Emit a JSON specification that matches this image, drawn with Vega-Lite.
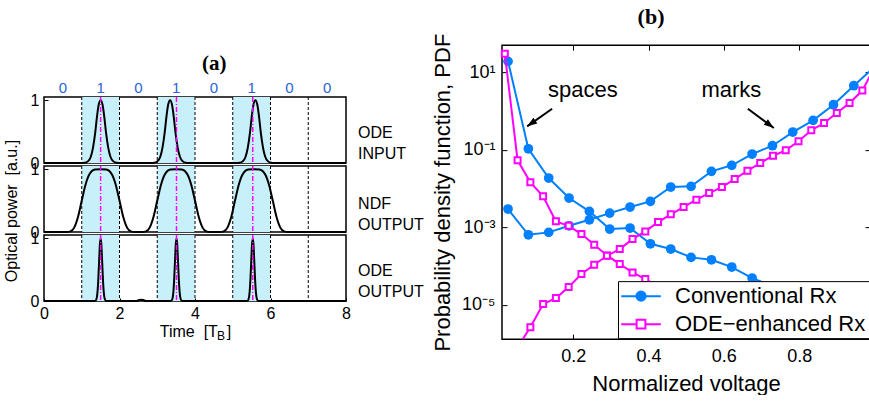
{
  "$schema": "https://vega.github.io/schema/vega-lite/v6.json",
  "padding": {"left": 3, "top": 5, "right": 0, "bottom": 0},
  "config": {
    "font": "Liberation Sans",
    "view": {"stroke": "black", "strokeWidth": 1.5},
    "axis": {"domain": false, "grid": false, "tickColor": "black", "labelColor": "black", "titleColor": "black", "titleFontWeight": "normal", "labelFlush": false, "tickWidth": 1},
    "header": {"titleFontSize": 16, "titleFont": "Liberation Sans", "titleFontWeight": "normal", "titleColor": "black"}
  },
  "resolve": {
    "scale": {"fill": "independent", "stroke": "independent", "shape": "independent"},
    "legend": {"fill": "independent", "stroke": "independent", "shape": "independent"}
  },
  "datasets": {
    "pulses": [
      {"panel":"ODE INPUT","kind":"c","t":0,"p":0},{"panel":"ODE INPUT","kind":"c","t":1.0,"p":0},{"panel":"ODE INPUT","kind":"c","t":1.08,"p":0.003},{"panel":"ODE INPUT","kind":"c","t":1.17,"p":0.03},{"panel":"ODE INPUT","kind":"c","t":1.24,"p":0.1},{"panel":"ODE INPUT","kind":"c","t":1.3,"p":0.25},{"panel":"ODE INPUT","kind":"c","t":1.36,"p":0.5},{"panel":"ODE INPUT","kind":"c","t":1.4,"p":0.72},{"panel":"ODE INPUT","kind":"c","t":1.45,"p":0.93},{"panel":"ODE INPUT","kind":"c","t":1.5,"p":1},{"panel":"ODE INPUT","kind":"c","t":1.55,"p":0.93},{"panel":"ODE INPUT","kind":"c","t":1.6,"p":0.72},{"panel":"ODE INPUT","kind":"c","t":1.64,"p":0.5},{"panel":"ODE INPUT","kind":"c","t":1.7,"p":0.25},{"panel":"ODE INPUT","kind":"c","t":1.76,"p":0.1},{"panel":"ODE INPUT","kind":"c","t":1.83,"p":0.03},{"panel":"ODE INPUT","kind":"c","t":1.92,"p":0.003},{"panel":"ODE INPUT","kind":"c","t":2.0,"p":0},
      {"panel":"ODE INPUT","kind":"c","t":2.84,"p":0},{"panel":"ODE INPUT","kind":"c","t":2.92,"p":0.003},{"panel":"ODE INPUT","kind":"c","t":3.01,"p":0.03},{"panel":"ODE INPUT","kind":"c","t":3.08,"p":0.1},{"panel":"ODE INPUT","kind":"c","t":3.14,"p":0.25},{"panel":"ODE INPUT","kind":"c","t":3.2,"p":0.5},{"panel":"ODE INPUT","kind":"c","t":3.24,"p":0.72},{"panel":"ODE INPUT","kind":"c","t":3.29,"p":0.93},{"panel":"ODE INPUT","kind":"c","t":3.34,"p":1},{"panel":"ODE INPUT","kind":"c","t":3.39,"p":0.93},{"panel":"ODE INPUT","kind":"c","t":3.44,"p":0.72},{"panel":"ODE INPUT","kind":"c","t":3.48,"p":0.5},{"panel":"ODE INPUT","kind":"c","t":3.54,"p":0.25},{"panel":"ODE INPUT","kind":"c","t":3.6,"p":0.1},{"panel":"ODE INPUT","kind":"c","t":3.67,"p":0.03},{"panel":"ODE INPUT","kind":"c","t":3.76,"p":0.003},{"panel":"ODE INPUT","kind":"c","t":3.84,"p":0},
      {"panel":"ODE INPUT","kind":"c","t":5.1,"p":0},{"panel":"ODE INPUT","kind":"c","t":5.18,"p":0.003},{"panel":"ODE INPUT","kind":"c","t":5.27,"p":0.03},{"panel":"ODE INPUT","kind":"c","t":5.34,"p":0.1},{"panel":"ODE INPUT","kind":"c","t":5.4,"p":0.25},{"panel":"ODE INPUT","kind":"c","t":5.46,"p":0.5},{"panel":"ODE INPUT","kind":"c","t":5.5,"p":0.72},{"panel":"ODE INPUT","kind":"c","t":5.55,"p":0.93},{"panel":"ODE INPUT","kind":"c","t":5.6,"p":1},{"panel":"ODE INPUT","kind":"c","t":5.65,"p":0.93},{"panel":"ODE INPUT","kind":"c","t":5.7,"p":0.72},{"panel":"ODE INPUT","kind":"c","t":5.74,"p":0.5},{"panel":"ODE INPUT","kind":"c","t":5.8,"p":0.25},{"panel":"ODE INPUT","kind":"c","t":5.86,"p":0.1},{"panel":"ODE INPUT","kind":"c","t":5.93,"p":0.03},{"panel":"ODE INPUT","kind":"c","t":6.02,"p":0.003},{"panel":"ODE INPUT","kind":"c","t":6.1,"p":0},{"panel":"ODE INPUT","kind":"c","t":8,"p":0},
      {"panel":"NDF OUTPUT","kind":"c","t":0,"p":0},{"panel":"NDF OUTPUT","kind":"c","t":0.5,"p":0},{"panel":"NDF OUTPUT","kind":"c","t":0.6,"p":0.0007},{"panel":"NDF OUTPUT","kind":"c","t":0.7,"p":0.0106},{"panel":"NDF OUTPUT","kind":"c","t":0.8,"p":0.07},{"panel":"NDF OUTPUT","kind":"c","t":0.9,"p":0.238},{"panel":"NDF OUTPUT","kind":"c","t":1.0,"p":0.5},{"panel":"NDF OUTPUT","kind":"c","t":1.1,"p":0.753},{"panel":"NDF OUTPUT","kind":"c","t":1.2,"p":0.914},{"panel":"NDF OUTPUT","kind":"c","t":1.35,"p":0.994},{"panel":"NDF OUTPUT","kind":"c","t":1.5,"p":1},{"panel":"NDF OUTPUT","kind":"c","t":1.65,"p":0.994},{"panel":"NDF OUTPUT","kind":"c","t":1.8,"p":0.914},{"panel":"NDF OUTPUT","kind":"c","t":1.9,"p":0.753},{"panel":"NDF OUTPUT","kind":"c","t":2.0,"p":0.5},{"panel":"NDF OUTPUT","kind":"c","t":2.1,"p":0.238},{"panel":"NDF OUTPUT","kind":"c","t":2.2,"p":0.07},{"panel":"NDF OUTPUT","kind":"c","t":2.3,"p":0.0106},{"panel":"NDF OUTPUT","kind":"c","t":2.4,"p":0.0007},{"panel":"NDF OUTPUT","kind":"c","t":2.5,"p":0},
      {"panel":"NDF OUTPUT","kind":"c","t":2.6,"p":0.0007},{"panel":"NDF OUTPUT","kind":"c","t":2.7,"p":0.0106},{"panel":"NDF OUTPUT","kind":"c","t":2.8,"p":0.07},{"panel":"NDF OUTPUT","kind":"c","t":2.9,"p":0.238},{"panel":"NDF OUTPUT","kind":"c","t":3.0,"p":0.5},{"panel":"NDF OUTPUT","kind":"c","t":3.1,"p":0.753},{"panel":"NDF OUTPUT","kind":"c","t":3.2,"p":0.914},{"panel":"NDF OUTPUT","kind":"c","t":3.35,"p":0.994},{"panel":"NDF OUTPUT","kind":"c","t":3.5,"p":1},{"panel":"NDF OUTPUT","kind":"c","t":3.65,"p":0.994},{"panel":"NDF OUTPUT","kind":"c","t":3.8,"p":0.914},{"panel":"NDF OUTPUT","kind":"c","t":3.9,"p":0.753},{"panel":"NDF OUTPUT","kind":"c","t":4.0,"p":0.5},{"panel":"NDF OUTPUT","kind":"c","t":4.1,"p":0.238},{"panel":"NDF OUTPUT","kind":"c","t":4.2,"p":0.07},{"panel":"NDF OUTPUT","kind":"c","t":4.3,"p":0.0106},{"panel":"NDF OUTPUT","kind":"c","t":4.4,"p":0.0007},{"panel":"NDF OUTPUT","kind":"c","t":4.5,"p":0},
      {"panel":"NDF OUTPUT","kind":"c","t":4.56,"p":0},{"panel":"NDF OUTPUT","kind":"c","t":4.66,"p":0.0007},{"panel":"NDF OUTPUT","kind":"c","t":4.76,"p":0.0106},{"panel":"NDF OUTPUT","kind":"c","t":4.86,"p":0.07},{"panel":"NDF OUTPUT","kind":"c","t":4.96,"p":0.238},{"panel":"NDF OUTPUT","kind":"c","t":5.06,"p":0.5},{"panel":"NDF OUTPUT","kind":"c","t":5.16,"p":0.753},{"panel":"NDF OUTPUT","kind":"c","t":5.26,"p":0.914},{"panel":"NDF OUTPUT","kind":"c","t":5.41,"p":0.994},{"panel":"NDF OUTPUT","kind":"c","t":5.56,"p":1},{"panel":"NDF OUTPUT","kind":"c","t":5.71,"p":0.994},{"panel":"NDF OUTPUT","kind":"c","t":5.86,"p":0.914},{"panel":"NDF OUTPUT","kind":"c","t":5.96,"p":0.753},{"panel":"NDF OUTPUT","kind":"c","t":6.06,"p":0.5},{"panel":"NDF OUTPUT","kind":"c","t":6.16,"p":0.238},{"panel":"NDF OUTPUT","kind":"c","t":6.26,"p":0.07},{"panel":"NDF OUTPUT","kind":"c","t":6.36,"p":0.0106},{"panel":"NDF OUTPUT","kind":"c","t":6.46,"p":0.0007},{"panel":"NDF OUTPUT","kind":"c","t":6.56,"p":0},{"panel":"NDF OUTPUT","kind":"c","t":8,"p":0},
      {"panel":"ODE OUTPUT","kind":"c","t":0,"p":0},{"panel":"ODE OUTPUT","kind":"c","t":1.28,"p":0},{"panel":"ODE OUTPUT","kind":"c","t":1.33,"p":0.0003},{"panel":"ODE OUTPUT","kind":"c","t":1.37,"p":0.0083},{"panel":"ODE OUTPUT","kind":"c","t":1.4,"p":0.059},{"panel":"ODE OUTPUT","kind":"c","t":1.42,"p":0.163},{"panel":"ODE OUTPUT","kind":"c","t":1.44,"p":0.36},{"panel":"ODE OUTPUT","kind":"c","t":1.46,"p":0.635},{"panel":"ODE OUTPUT","kind":"c","t":1.48,"p":0.893},{"panel":"ODE OUTPUT","kind":"c","t":1.5,"p":1},{"panel":"ODE OUTPUT","kind":"c","t":1.52,"p":0.893},{"panel":"ODE OUTPUT","kind":"c","t":1.54,"p":0.635},{"panel":"ODE OUTPUT","kind":"c","t":1.56,"p":0.36},{"panel":"ODE OUTPUT","kind":"c","t":1.58,"p":0.163},{"panel":"ODE OUTPUT","kind":"c","t":1.6,"p":0.059},{"panel":"ODE OUTPUT","kind":"c","t":1.63,"p":0.0083},{"panel":"ODE OUTPUT","kind":"c","t":1.67,"p":0.0003},{"panel":"ODE OUTPUT","kind":"c","t":1.72,"p":0},
      {"panel":"ODE OUTPUT","kind":"c","t":2.45,"p":0},{"panel":"ODE OUTPUT","kind":"c","t":2.52,"p":0.015},{"panel":"ODE OUTPUT","kind":"c","t":2.57,"p":0.022},{"panel":"ODE OUTPUT","kind":"c","t":2.63,"p":0.015},{"panel":"ODE OUTPUT","kind":"c","t":2.7,"p":0},
      {"panel":"ODE OUTPUT","kind":"c","t":3.29,"p":0},{"panel":"ODE OUTPUT","kind":"c","t":3.34,"p":0.0003},{"panel":"ODE OUTPUT","kind":"c","t":3.38,"p":0.0083},{"panel":"ODE OUTPUT","kind":"c","t":3.41,"p":0.059},{"panel":"ODE OUTPUT","kind":"c","t":3.43,"p":0.163},{"panel":"ODE OUTPUT","kind":"c","t":3.45,"p":0.36},{"panel":"ODE OUTPUT","kind":"c","t":3.47,"p":0.635},{"panel":"ODE OUTPUT","kind":"c","t":3.49,"p":0.893},{"panel":"ODE OUTPUT","kind":"c","t":3.51,"p":1},{"panel":"ODE OUTPUT","kind":"c","t":3.53,"p":0.893},{"panel":"ODE OUTPUT","kind":"c","t":3.55,"p":0.635},{"panel":"ODE OUTPUT","kind":"c","t":3.57,"p":0.36},{"panel":"ODE OUTPUT","kind":"c","t":3.59,"p":0.163},{"panel":"ODE OUTPUT","kind":"c","t":3.61,"p":0.059},{"panel":"ODE OUTPUT","kind":"c","t":3.64,"p":0.0083},{"panel":"ODE OUTPUT","kind":"c","t":3.68,"p":0.0003},{"panel":"ODE OUTPUT","kind":"c","t":3.73,"p":0},
      {"panel":"ODE OUTPUT","kind":"c","t":5.31,"p":0},{"panel":"ODE OUTPUT","kind":"c","t":5.36,"p":0.0003},{"panel":"ODE OUTPUT","kind":"c","t":5.4,"p":0.0083},{"panel":"ODE OUTPUT","kind":"c","t":5.43,"p":0.059},{"panel":"ODE OUTPUT","kind":"c","t":5.45,"p":0.163},{"panel":"ODE OUTPUT","kind":"c","t":5.47,"p":0.36},{"panel":"ODE OUTPUT","kind":"c","t":5.49,"p":0.635},{"panel":"ODE OUTPUT","kind":"c","t":5.51,"p":0.893},{"panel":"ODE OUTPUT","kind":"c","t":5.53,"p":1},{"panel":"ODE OUTPUT","kind":"c","t":5.55,"p":0.893},{"panel":"ODE OUTPUT","kind":"c","t":5.57,"p":0.635},{"panel":"ODE OUTPUT","kind":"c","t":5.59,"p":0.36},{"panel":"ODE OUTPUT","kind":"c","t":5.61,"p":0.163},{"panel":"ODE OUTPUT","kind":"c","t":5.63,"p":0.059},{"panel":"ODE OUTPUT","kind":"c","t":5.66,"p":0.0083},{"panel":"ODE OUTPUT","kind":"c","t":5.7,"p":0.0003},{"panel":"ODE OUTPUT","kind":"c","t":5.75,"p":0},{"panel":"ODE OUTPUT","kind":"c","t":8,"p":0},
      {"panel":"ODE INPUT","kind":"band","t":1,"t2":2},{"panel":"ODE INPUT","kind":"band","t":3,"t2":4},{"panel":"ODE INPUT","kind":"band","t":5,"t2":6},
      {"panel":"NDF OUTPUT","kind":"band","t":1,"t2":2},{"panel":"NDF OUTPUT","kind":"band","t":3,"t2":4},{"panel":"NDF OUTPUT","kind":"band","t":5,"t2":6},
      {"panel":"ODE OUTPUT","kind":"band","t":1,"t2":2},{"panel":"ODE OUTPUT","kind":"band","t":3,"t2":4},{"panel":"ODE OUTPUT","kind":"band","t":5,"t2":6},
      {"panel":"ODE INPUT","kind":"dash","t":1},{"panel":"ODE INPUT","kind":"dash","t":2},{"panel":"ODE INPUT","kind":"dash","t":3},{"panel":"ODE INPUT","kind":"dash","t":4},{"panel":"ODE INPUT","kind":"dash","t":5},{"panel":"ODE INPUT","kind":"dash","t":6},{"panel":"ODE INPUT","kind":"dash","t":7},
      {"panel":"NDF OUTPUT","kind":"dash","t":1},{"panel":"NDF OUTPUT","kind":"dash","t":2},{"panel":"NDF OUTPUT","kind":"dash","t":3},{"panel":"NDF OUTPUT","kind":"dash","t":4},{"panel":"NDF OUTPUT","kind":"dash","t":5},{"panel":"NDF OUTPUT","kind":"dash","t":6},{"panel":"NDF OUTPUT","kind":"dash","t":7},
      {"panel":"ODE OUTPUT","kind":"dash","t":1},{"panel":"ODE OUTPUT","kind":"dash","t":2},{"panel":"ODE OUTPUT","kind":"dash","t":3},{"panel":"ODE OUTPUT","kind":"dash","t":4},{"panel":"ODE OUTPUT","kind":"dash","t":5},{"panel":"ODE OUTPUT","kind":"dash","t":6},{"panel":"ODE OUTPUT","kind":"dash","t":7},
      {"panel":"ODE INPUT","kind":"mag","t":1.5},{"panel":"ODE INPUT","kind":"mag","t":3.51},{"panel":"ODE INPUT","kind":"mag","t":5.53},
      {"panel":"NDF OUTPUT","kind":"mag","t":1.5},{"panel":"NDF OUTPUT","kind":"mag","t":3.51},{"panel":"NDF OUTPUT","kind":"mag","t":5.53},
      {"panel":"ODE OUTPUT","kind":"mag","t":1.5},{"panel":"ODE OUTPUT","kind":"mag","t":3.51},{"panel":"ODE OUTPUT","kind":"mag","t":5.53},
      {"panel":"ODE INPUT","kind":"bit","t":0.5,"p":1.2,"txt":"0"},{"panel":"ODE INPUT","kind":"bit","t":1.5,"p":1.2,"txt":"1"},{"panel":"ODE INPUT","kind":"bit","t":2.5,"p":1.2,"txt":"0"},{"panel":"ODE INPUT","kind":"bit","t":3.5,"p":1.2,"txt":"1"},{"panel":"ODE INPUT","kind":"bit","t":4.5,"p":1.2,"txt":"0"},{"panel":"ODE INPUT","kind":"bit","t":5.5,"p":1.2,"txt":"1"},{"panel":"ODE INPUT","kind":"bit","t":6.5,"p":1.2,"txt":"0"},{"panel":"ODE INPUT","kind":"bit","t":7.5,"p":1.2,"txt":"0"},
      {"panel":"ODE INPUT","kind":"lab","t":8.32,"p":0.47,"txt":"ODE INPUT"},
      {"panel":"NDF OUTPUT","kind":"lab","t":8.32,"p":0.45,"txt":"NDF OUTPUT"},
      {"panel":"ODE OUTPUT","kind":"lab","t":8.32,"p":0.47,"txt":"ODE OUTPUT"},
      {"panel":"ODE OUTPUT","kind":"sub","t":4.69,"p":-0.56,"txt":"B"}
    ],
    "pdf": [
      {"rx":"Conventional Rx","part":"spaces","v":0.027,"pdf":19.1},{"rx":"Conventional Rx","part":"spaces","v":0.081,"pdf":0.106},{"rx":"Conventional Rx","part":"spaces","v":0.135,"pdf":0.0186},{"rx":"Conventional Rx","part":"spaces","v":0.189,"pdf":0.00567},{"rx":"Conventional Rx","part":"spaces","v":0.243,"pdf":0.00257},{"rx":"Conventional Rx","part":"spaces","v":0.297,"pdf":0.000899},{"rx":"Conventional Rx","part":"spaces","v":0.351,"pdf":0.000953},{"rx":"Conventional Rx","part":"spaces","v":0.405,"pdf":0.000375},{"rx":"Conventional Rx","part":"spaces","v":0.459,"pdf":0.000274},{"rx":"Conventional Rx","part":"spaces","v":0.513,"pdf":0.000167},{"rx":"Conventional Rx","part":"spaces","v":0.567,"pdf":0.000145},{"rx":"Conventional Rx","part":"spaces","v":0.621,"pdf":0.000094},{"rx":"Conventional Rx","part":"spaces","v":0.675,"pdf":0.000049},{"rx":"Conventional Rx","part":"spaces","v":0.729,"pdf":0.00003},{"rx":"Conventional Rx","part":"spaces","v":0.783,"pdf":0.000018},{"rx":"Conventional Rx","part":"spaces","v":0.837,"pdf":0.00001},
      {"rx":"Conventional Rx","part":"marks","v":0.027,"pdf":0.00295},{"rx":"Conventional Rx","part":"marks","v":0.081,"pdf":0.00064},{"rx":"Conventional Rx","part":"marks","v":0.135,"pdf":0.000738},{"rx":"Conventional Rx","part":"marks","v":0.189,"pdf":0.00109},{"rx":"Conventional Rx","part":"marks","v":0.243,"pdf":0.00156},{"rx":"Conventional Rx","part":"marks","v":0.297,"pdf":0.00232},{"rx":"Conventional Rx","part":"marks","v":0.351,"pdf":0.00332},{"rx":"Conventional Rx","part":"marks","v":0.405,"pdf":0.00466},{"rx":"Conventional Rx","part":"marks","v":0.459,"pdf":0.0109},{"rx":"Conventional Rx","part":"marks","v":0.513,"pdf":0.01135},{"rx":"Conventional Rx","part":"marks","v":0.567,"pdf":0.0277},{"rx":"Conventional Rx","part":"marks","v":0.621,"pdf":0.0396},{"rx":"Conventional Rx","part":"marks","v":0.675,"pdf":0.0774},{"rx":"Conventional Rx","part":"marks","v":0.729,"pdf":0.127},{"rx":"Conventional Rx","part":"marks","v":0.783,"pdf":0.286},{"rx":"Conventional Rx","part":"marks","v":0.837,"pdf":0.574},{"rx":"Conventional Rx","part":"marks","v":0.891,"pdf":1.45},{"rx":"Conventional Rx","part":"marks","v":0.945,"pdf":4.49},{"rx":"Conventional Rx","part":"marks","v":0.999,"pdf":13.4},
      {"rx":"ODE−enhanced Rx","part":"spaces","v":0.0185,"pdf":30.0},{"rx":"ODE−enhanced Rx","part":"spaces","v":0.0524,"pdf":0.0532},{"rx":"ODE−enhanced Rx","part":"spaces","v":0.0863,"pdf":0.0144},{"rx":"ODE−enhanced Rx","part":"spaces","v":0.1202,"pdf":0.00627},{"rx":"ODE−enhanced Rx","part":"spaces","v":0.1541,"pdf":0.00142},{"rx":"ODE−enhanced Rx","part":"spaces","v":0.188,"pdf":0.00109},{"rx":"ODE−enhanced Rx","part":"spaces","v":0.2219,"pdf":0.000668},{"rx":"ODE−enhanced Rx","part":"spaces","v":0.2558,"pdf":0.000354},{"rx":"ODE−enhanced Rx","part":"spaces","v":0.2897,"pdf":0.000188},{"rx":"ODE−enhanced Rx","part":"spaces","v":0.3236,"pdf":0.000112},{"rx":"ODE−enhanced Rx","part":"spaces","v":0.3575,"pdf":0.0000685},{"rx":"ODE−enhanced Rx","part":"spaces","v":0.3914,"pdf":0.000046},{"rx":"ODE−enhanced Rx","part":"spaces","v":0.4253,"pdf":0.00003},{"rx":"ODE−enhanced Rx","part":"spaces","v":0.4592,"pdf":0.000018},{"rx":"ODE−enhanced Rx","part":"spaces","v":0.4931,"pdf":0.00001},
      {"rx":"ODE−enhanced Rx","part":"marks","v":0.0524,"pdf":0.00000079},{"rx":"ODE−enhanced Rx","part":"marks","v":0.0863,"pdf":0.00000265},{"rx":"ODE−enhanced Rx","part":"marks","v":0.1202,"pdf":0.0000104},{"rx":"ODE−enhanced Rx","part":"marks","v":0.1541,"pdf":0.0000149},{"rx":"ODE−enhanced Rx","part":"marks","v":0.188,"pdf":0.0000286},{"rx":"ODE−enhanced Rx","part":"marks","v":0.2219,"pdf":0.000062},{"rx":"ODE−enhanced Rx","part":"marks","v":0.2558,"pdf":0.000108},{"rx":"ODE−enhanced Rx","part":"marks","v":0.2897,"pdf":0.000184},{"rx":"ODE−enhanced Rx","part":"marks","v":0.3236,"pdf":0.000274},{"rx":"ODE−enhanced Rx","part":"marks","v":0.3575,"pdf":0.000495},{"rx":"ODE−enhanced Rx","part":"marks","v":0.3914,"pdf":0.000783},{"rx":"ODE−enhanced Rx","part":"marks","v":0.4253,"pdf":0.00136},{"rx":"ODE−enhanced Rx","part":"marks","v":0.4592,"pdf":0.00215},{"rx":"ODE−enhanced Rx","part":"marks","v":0.4931,"pdf":0.00332},{"rx":"ODE−enhanced Rx","part":"marks","v":0.527,"pdf":0.00513},{"rx":"ODE−enhanced Rx","part":"marks","v":0.5609,"pdf":0.00764},{"rx":"ODE−enhanced Rx","part":"marks","v":0.5948,"pdf":0.0109},{"rx":"ODE−enhanced Rx","part":"marks","v":0.6287,"pdf":0.0175},{"rx":"ODE−enhanced Rx","part":"marks","v":0.6626,"pdf":0.0287},{"rx":"ODE−enhanced Rx","part":"marks","v":0.6965,"pdf":0.0454},{"rx":"ODE−enhanced Rx","part":"marks","v":0.7304,"pdf":0.070},{"rx":"ODE−enhanced Rx","part":"marks","v":0.7643,"pdf":0.0966},{"rx":"ODE−enhanced Rx","part":"marks","v":0.7982,"pdf":0.165},{"rx":"ODE−enhanced Rx","part":"marks","v":0.8321,"pdf":0.317},{"rx":"ODE−enhanced Rx","part":"marks","v":0.866,"pdf":0.489},{"rx":"ODE−enhanced Rx","part":"marks","v":0.8999,"pdf":0.885},{"rx":"ODE−enhanced Rx","part":"marks","v":0.9338,"pdf":1.60},{"rx":"ODE−enhanced Rx","part":"marks","v":0.9677,"pdf":3.37},{"rx":"ODE−enhanced Rx","part":"marks","v":1.0016,"pdf":14.2}
    ],
    "notes": [
      {"label":"spaces","v":0.2255,"pdf":2.29,"tailv":0.1441,"tailpdf":1.143,"tipv":0.0778,"tippdf":0.402},
      {"label":"marks","v":0.620,"pdf":2.29,"tailv":0.6637,"tailpdf":1.143,"tipv":0.7327,"tippdf":0.363}
    ]
  },
  "spacing": 5,
  "center": true,
  "hconcat": [
    {
      "data": {"name": "pulses"},
      "title": {"text": "(a)", "font": "Liberation Serif", "fontSize": 21, "fontWeight": "bold", "anchor": "middle", "frame": "bounds", "offset": 6},
      "bounds": "flush",
      "spacing": {"row": 3},
      "facet": {
        "row": {
          "field": "panel", "type": "nominal",
          "sort": ["ODE INPUT", "NDF OUTPUT", "ODE OUTPUT"],
          "title": "Optical power \u00a0[a.u.]",
          "header": {
            "labels": false, "labelPadding": 0,
            "titleOrient": "left", "titleFontSize": 16, "titleFont": "Liberation Sans", "titleFontWeight": "normal", "titlePadding": 0
          }
        }
      },
      "spec": {
        "width": 302, "height": 66,
        "layer": [
          {
            "transform": [{"filter": "datum.kind == 'band'"}],
            "mark": {"type": "rect", "color": "#c8f0fa"},
            "encoding": {
              "x": {"field": "t", "type": "quantitative", "scale": {"domain": [0, 8], "nice": false}},
              "x2": {"field": "t2"}
            }
          },
          {
            "transform": [{"filter": "datum.kind == 'dash'"}],
            "mark": {"type": "rule", "color": "black", "strokeWidth": 1, "strokeDash": [3, 2]},
            "encoding": {"x": {"field": "t", "type": "quantitative", "scale": {"domain": [0, 8], "nice": false}}}
          },
          {
            "transform": [{"filter": "datum.kind == 'c'"}],
            "mark": {"type": "line", "color": "black", "strokeWidth": 2, "interpolate": "monotone"},
            "encoding": {
              "x": {"field": "t", "type": "quantitative", "scale": {"domain": [0, 8], "nice": false},
                    "axis": {"orient": "bottom", "values": [0,1,2,3,4,5,6,7,8], "offset": -3, "tickSize": 3, "labelPadding": 4, "labelFontSize": 16, "title": "Time \u00a0[T\u00a0\u00a0]", "titleFontSize": 16, "titlePadding": 2}},
              "y": {"field": "p", "type": "quantitative", "scale": {"domain": [0, 1.05], "nice": false, "zero": false},
                    "axis": {"orient": "left", "values": [0, 0.5, 1], "labelExpr": "datum.value == 1 ? '1' : datum.value == 0 ? '0' : ''", "offset": -4, "tickSize": 4, "labelPadding": 5, "labelFontSize": 16, "title": null}}
            }
          },
          {
            "transform": [{"filter": "datum.kind == 'mag'"}],
            "mark": {"type": "rule", "color": "#ff00ff", "strokeWidth": 1.5, "strokeDash": [5, 2, 1, 2]},
            "encoding": {"x": {"field": "t", "type": "quantitative", "scale": {"domain": [0, 8], "nice": false}}}
          },
          {
            "transform": [{"filter": "datum.kind == 'bit'"}],
            "mark": {"type": "text", "color": "#2a64d4", "fontSize": 15, "baseline": "middle", "align": "center"},
            "encoding": {
              "x": {"field": "t", "type": "quantitative", "scale": {"domain": [0, 8], "nice": false}},
              "y": {"field": "p", "type": "quantitative", "scale": {"domain": [0, 1.05], "nice": false, "zero": false}},
              "text": {"field": "txt"}
            }
          },
          {
            "transform": [{"filter": "datum.kind == 'lab'"}],
            "mark": {"type": "text", "color": "black", "fontSize": 16, "baseline": "middle", "align": "left", "lineBreak": " ", "lineHeight": 21},
            "encoding": {
              "x": {"field": "t", "type": "quantitative", "scale": {"domain": [0, 8], "nice": false}},
              "y": {"field": "p", "type": "quantitative", "scale": {"domain": [0, 1.05], "nice": false, "zero": false}},
              "text": {"field": "txt"}
            }
          },
          {
            "transform": [{"filter": "datum.kind == 'sub'"}],
            "mark": {"type": "text", "color": "black", "fontSize": 12, "baseline": "middle", "align": "center"},
            "encoding": {
              "x": {"field": "t", "type": "quantitative", "scale": {"domain": [0, 8], "nice": false}},
              "y": {"field": "p", "type": "quantitative", "scale": {"domain": [0, 1.05], "nice": false, "zero": false}},
              "text": {"field": "txt"}
            }
          }
        ]
      }
    },
    {
      "width": 368, "height": 294,
      "title": {"text": "(b)", "font": "Liberation Serif", "fontSize": 22, "fontWeight": "bold", "anchor": "middle", "frame": "bounds", "offset": 4},
      "resolve": {"axis": {"x": "independent", "y": "independent"}},
      "layer": [
        {
          "data": {"name": "pdf"},
          "transform": [{"filter": "datum.rx == 'Conventional Rx'"}],
          "mark": {"type": "line", "strokeWidth": 2, "clip": true, "color": "#0080ff"},
          "encoding": {
            "x": {"field": "v", "type": "quantitative", "scale": {"domain": [0.011, 0.988], "nice": false, "zero": false},
                  "axis": {"orient": "bottom", "values": [0.2, 0.4, 0.6, 0.8], "offset": -5, "tickSize": 5, "labelPadding": 8, "labelFontSize": 18, "title": "Normalized voltage", "titleFontSize": 22, "titlePadding": 8}},
            "y": {"field": "pdf", "type": "quantitative", "scale": {"type": "log", "domain": [0.0000013, 50], "nice": false},
                  "axis": {"orient": "left", "values": [0.00001, 0.001, 0.1, 10], "offset": -5, "tickSize": 5, "labelPadding": 7, "labelFontSize": 18,
                           "labelExpr": "datum.value >= 1 ? '10¹' : datum.value >= 0.01 ? '10⁻¹' : datum.value >= 0.0001 ? '10⁻³' : '10⁻⁵'",
                           "title": "Probability density function, PDF", "titleFontSize": 22, "titlePadding": 7}},
            "detail": {"field": "part"}
          }
        },
        {
          "data": {"name": "pdf"},
          "transform": [{"filter": "datum.rx == 'Conventional Rx' && datum.v <= 0.988"}],
          "mark": {"type": "point", "shape": "circle", "filled": true, "color": "#0080ff", "size": 95, "opacity": 1},
          "encoding": {
            "x": {"field": "v", "type": "quantitative", "scale": {"domain": [0.011, 0.988], "nice": false, "zero": false}, "axis": null},
            "y": {"field": "pdf", "type": "quantitative", "scale": {"type": "log", "domain": [0.0000013, 50], "nice": false}, "axis": null}
          }
        },
        {
          "data": {"name": "pdf"},
          "transform": [{"filter": "datum.rx != 'Conventional Rx'"}],
          "mark": {"type": "line", "strokeWidth": 2, "clip": true, "color": "#ff00ff"},
          "encoding": {
            "x": {"field": "v", "type": "quantitative", "scale": {"domain": [0.011, 0.988], "nice": false, "zero": false}, "axis": null},
            "y": {"field": "pdf", "type": "quantitative", "scale": {"type": "log", "domain": [0.0000013, 50], "nice": false}, "axis": null},
            "detail": {"field": "part"}
          }
        },
        {
          "data": {"name": "pdf"},
          "transform": [{"filter": "datum.rx != 'Conventional Rx' && datum.v <= 0.988 && datum.pdf >= 0.0000013"}],
          "mark": {"type": "point", "shape": "square", "filled": true, "fill": "white", "stroke": "#ff00ff", "strokeWidth": 2, "size": 36, "opacity": 1},
          "encoding": {
            "x": {"field": "v", "type": "quantitative", "scale": {"domain": [0.011, 0.988], "nice": false, "zero": false},
                  "axis": {"orient": "top", "values": [0.2, 0.4, 0.6, 0.8], "offset": -5, "tickSize": 5, "labels": false, "title": null}},
            "y": {"field": "pdf", "type": "quantitative", "scale": {"type": "log", "domain": [0.0000013, 50], "nice": false},
                  "axis": {"orient": "right", "values": [0.00001, 0.001, 0.1, 10], "offset": -5, "tickSize": 5, "labels": false, "title": null}}
          }
        },
        {
          "data": {"name": "pdf"},
          "transform": [{"filter": "datum.v > 5"}],
          "mark": {"type": "point", "filled": true, "opacity": 1},
          "encoding": {
            "x": {"field": "v", "type": "quantitative", "axis": null},
            "y": {"field": "pdf", "type": "quantitative", "axis": null},
            "fill": {"field": "rx", "type": "nominal",
                     "scale": {"domain": ["Conventional Rx", "ODE−enhanced Rx"], "range": ["#0080ff", "white"]},
                     "legend": {"title": null, "orient": "bottom-right", "offset": 1, "labelFontSize": 22, "labelLimit": 400, "symbolSize": 484, "symbolStrokeWidth": 2, "symbolOffset": 8, "padding": 3, "rowPadding": 5, "labelOffset": 22, "strokeColor": "black", "fillColor": "white", "labelExpr": "datum.label + '\u00a0\u00a0\u00a0\u00a0'"}},
            "stroke": {"field": "rx", "type": "nominal",
                       "scale": {"domain": ["Conventional Rx", "ODE−enhanced Rx"], "range": ["#0080ff", "#ff00ff"]},
                       "legend": {"title": null, "orient": "bottom-right", "offset": 1, "labelFontSize": 22, "labelLimit": 400, "symbolSize": 484, "symbolStrokeWidth": 2, "symbolOffset": 8, "padding": 3, "rowPadding": 5, "labelOffset": 22, "strokeColor": "black", "fillColor": "white", "labelExpr": "datum.label + '\u00a0\u00a0\u00a0\u00a0'"}},
            "shape": {"field": "rx", "type": "nominal",
                      "scale": {"domain": ["Conventional Rx", "ODE−enhanced Rx"], "range": ["M-1.8,0H1.8M-0.42,0A0.42,0.42,0,1,1,0.42,0A0.42,0.42,0,1,1,-0.42,0Z", "M-1.8,0H-0.4M0.4,0H1.8M-0.4,-0.4H0.4V0.4H-0.4Z"]},
                      "legend": {"title": null, "orient": "bottom-right", "offset": 1, "labelFontSize": 22, "labelLimit": 400, "symbolSize": 484, "symbolStrokeWidth": 2, "symbolOffset": 8, "padding": 3, "rowPadding": 5, "labelOffset": 22, "strokeColor": "black", "fillColor": "white", "labelExpr": "datum.label + '\u00a0\u00a0\u00a0\u00a0'"}}
          }
        },
        {
          "data": {"name": "notes"},
          "mark": {"type": "rule", "color": "black", "strokeWidth": 2},
          "encoding": {
            "x": {"field": "tailv", "type": "quantitative", "axis": null},
            "y": {"field": "tailpdf", "type": "quantitative", "axis": null},
            "x2": {"field": "tipv"},
            "y2": {"field": "tippdf"}
          }
        },
        {
          "data": {"name": "notes"},
          "transform": [{"filter": "datum.label == 'spaces'"}],
          "mark": {"type": "point", "shape": "M0,0L0.45,1.3L-0.45,1.3Z", "filled": true, "color": "black", "size": 237, "angle": 235, "opacity": 1},
          "encoding": {
            "x": {"field": "tipv", "type": "quantitative", "axis": null},
            "y": {"field": "tippdf", "type": "quantitative", "axis": null}
          }
        },
        {
          "data": {"name": "notes"},
          "transform": [{"filter": "datum.label == 'marks'"}],
          "mark": {"type": "point", "shape": "M0,0L0.45,1.3L-0.45,1.3Z", "filled": true, "color": "black", "size": 237, "angle": 127, "opacity": 1},
          "encoding": {
            "x": {"field": "tipv", "type": "quantitative", "axis": null},
            "y": {"field": "tippdf", "type": "quantitative", "axis": null}
          }
        },
        {
          "data": {"name": "notes"},
          "mark": {"type": "text", "fontSize": 22, "color": "black", "align": "center", "baseline": "alphabetic"},
          "encoding": {
            "x": {"field": "v", "type": "quantitative", "axis": null},
            "y": {"field": "pdf", "type": "quantitative", "axis": null},
            "text": {"field": "label"}
          }
        }
      ]
    }
  ]
}
